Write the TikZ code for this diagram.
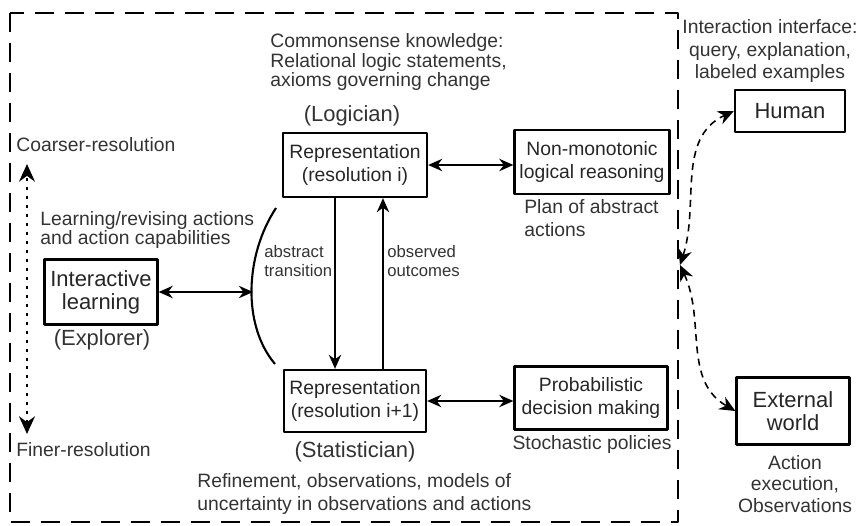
\documentclass[tikz,border=0pt]{standalone}
\usepackage{fontspec}
\setmainfont{Liberation Sans}
\usetikzlibrary{arrows.meta}
\begin{document}
\begin{tikzpicture}[x=0.02cm,y=-0.02cm,line join=round,>={Stealth[length=8pt,width=7pt]}]
            \tikzset{box/.style={draw,line width=1.3pt,align=center,inner sep=1pt,text=black!85,font=\fontsize{11}{13}\selectfont},
                     big/.style={font=\fontsize{12.5}{13}\selectfont},
                     lbl/.style={align=left,inner sep=0pt,text=black!80,font=\fontsize{11}{12.5}\selectfont},
                     role/.style={inner sep=0pt,text=black!80,font=\fontsize{12.5}{14}\selectfont},
                     tiny/.style={align=left,inner sep=0pt,text=black!80,font=\fontsize{9.5}{10.5}\selectfont},
                     conn/.style={<->,line width=1.2pt}}
            \useasboundingbox (0,0) rectangle (860,525);
            % architecture boundary
            \draw[line width=1.3pt,dash pattern=on 0.38cm off 0.22cm] (10,13) rectangle (678,522);
            % boxes
            \node[box,minimum width=2.88cm,minimum height=1.28cm] (repi) at (355,165) {Representation\\(resolution i)};
            \node[box,minimum width=2.84cm,minimum height=1.24cm] (repii) at (355,401) {Representation\\(resolution i+1)};
            \node[box,minimum width=3.1cm,minimum height=1.28cm] (reason) at (592,162) {Non-monotonic\\logical reasoning};
            \node[box,minimum width=3.06cm,minimum height=1.26cm] (decide) at (591,398) {Probabilistic\\decision making};
            \node[box,big,minimum width=2.26cm,minimum height=1.3cm] (learn) at (101,292) {Interactive\\learning};
            \node[box,big,minimum width=2.2cm,minimum height=0.84cm] (human) at (790,111) {Human};
            \node[box,big,minimum width=2.26cm,minimum height=1.34cm] (world) at (793,411) {External\\world};
            % labels
            \node[lbl,anchor=west,font=\fontsize{11}{11.3}\selectfont] (common) at (270,62) {Commonsense knowledge:\\Relational logic statements,\\axioms governing change};
            \node[role] (logician) at (352,116) {(Logician)};
            \node[role] (explorer) at (102,340) {(Explorer)};
            \node[role] (statist) at (355,452) {(Statistician)};
            \node[lbl,anchor=west] (coarse) at (16,145) {Coarser-resolution};
            \node[lbl,anchor=west] (fine) at (16,450) {Finer-resolution};
            \node[lbl,anchor=west,font=\fontsize{11}{11.3}\selectfont] (learnrev) at (40,230) {Learning/revising actions\\and action capabilities};
            \node[tiny,anchor=west] (abstr) at (264,261) {abstract\\transition};
            \node[tiny,anchor=west] (obs) at (387,261) {observed\\outcomes};
            \node[lbl,anchor=west,font=\fontsize{11}{13}\selectfont] (plan) at (524,218) {Plan of abstract\\actions};
            \node[lbl] (stoch) at (592,444) {Stochastic policies};
            \node[lbl,anchor=west,font=\fontsize{11}{13}\selectfont] (refine) at (197,494) {Refinement, observations, models of\\uncertainty in observations and actions};
            \node[lbl,align=center,font=\fontsize{11}{13}\selectfont] (iface) at (770,51) {Interaction interface:\\query, explanation,\\labeled examples};
            \node[lbl,align=center,font=\fontsize{11}{12.2}\selectfont] (actexec) at (795,484) {Action\\execution,\\Observations};
            % resolution axis
            \coordinate (up) at (27,164);
            \coordinate (dn) at (27,434);
            \draw[{Stealth[length=10pt,width=9pt]}-{Stealth[length=10pt,width=9pt]},line width=1.7pt,dash pattern=on 1.7pt off 3.4pt] (dn) -- (up);
            % refinement arc
            \coordinate (arcmid) at (253,292);
            \draw[line width=1.2pt] (276,208) .. controls (245,255) and (242,325) .. (275,364);
            % connectors
            \draw[conn] (learn.east) -- (arcmid);
            \draw[conn] (repi.east) -- (repi.east -| reason.west);
            \draw[conn] (repii.east) -- (repii.east -| decide.west);
            \draw[->,line width=1.2pt] ([xshift=-0.4cm]repi.south) -- ([xshift=-0.4cm]repii.north);
            \draw[->,line width=1.2pt] ([xshift=0.56cm]repii.north) -- ([xshift=0.56cm]repi.south);
            % interface to human and world
            \coordinate (port) at (680,265);
            \draw[{Stealth[length=9pt,width=8pt]}-{Stealth[length=9pt,width=8pt]},line width=0.9pt,dash pattern=on 4pt off 3pt] (port) to[out=72,in=205] (human.west);
            \draw[{Stealth[length=9pt,width=8pt]}-{Stealth[length=9pt,width=8pt]},line width=0.9pt,dash pattern=on 4pt off 3pt] (port) to[out=-65,in=150] (world.west);
        \end{tikzpicture}
\end{document}
